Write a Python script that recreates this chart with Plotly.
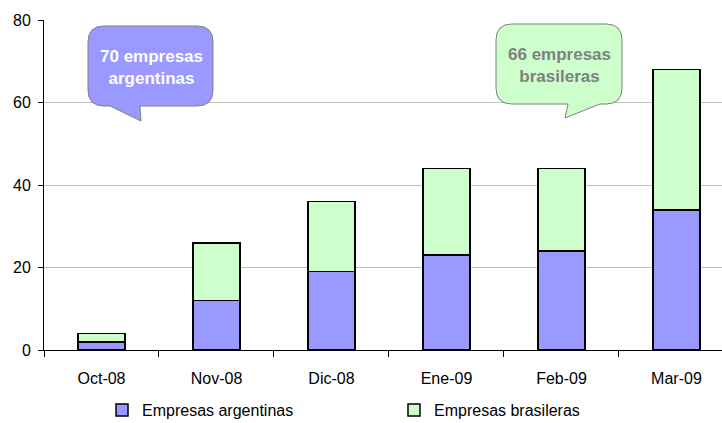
import plotly.graph_objects as go

categories = ["Oct-08", "Nov-08", "Dic-08", "Ene-09", "Feb-09", "Mar-09"]
argentinas = [2, 12, 19, 23, 24, 34]
brasileras = [2, 14, 17, 21, 20, 34]
series_names = ["Empresas argentinas", "Empresas brasileras"]
callout_texts = ["70 empresas<br>argentinas", "66 empresas<br>brasileras"]

W, H = 722, 423
ML, MR, MT, MB = 44, 0, 20, 73
PW, PH = W - ML - MR, H - MT - MB

FONT = "Liberation Sans, Arial, sans-serif"
C_ARG = "#9999FF"
C_BRA = "#CCFFCC"


def px2paper(x, y):
    return (x - ML) / PW, (H - MB - y) / PH


def bubble_path(x0, y0, x1, y1, r, tail):
    bl, br, tx, ty = tail
    def P(cmd, *xy):
        coords = []
        for i in range(0, len(xy), 2):
            px, py = px2paper(xy[i], xy[i + 1])
            coords.append(f"{px:.5f},{py:.5f}")
        return cmd + " ".join(coords)
    s = P("M", x0 + r, y0)
    s += P(" L", x1 - r, y0)
    s += P(" Q", x1, y0, x1, y0 + r)
    s += P(" L", x1, y1 - r)
    s += P(" Q", x1, y1, x1 - r, y1)
    s += P(" L", br, y1)
    s += P(" L", tx, ty)
    s += P(" L", bl, y1)
    s += P(" L", x0 + r, y1)
    s += P(" Q", x0, y1, x0, y1 - r)
    s += P(" L", x0, y0 + r)
    s += P(" Q", x0, y0, x0 + r, y0)
    s += " Z"
    return s


fig = go.Figure()
fig.add_trace(go.Bar(
    x=categories, y=argentinas, name=series_names[0],
    marker=dict(color=C_ARG, line=dict(color="black", width=1.5)),
))
fig.add_trace(go.Bar(
    x=categories, y=brasileras, name=series_names[1],
    marker=dict(color=C_BRA, line=dict(color="black", width=1.5)),
))

shapes = [
    dict(type="path", xref="paper", yref="paper",
         path=bubble_path(88, 26, 213, 106, 16, (110, 140, 141, 121)),
         fillcolor=C_ARG, line=dict(color="#808080", width=1)),
    dict(type="path", xref="paper", yref="paper",
         path=bubble_path(496, 24, 622, 104, 16, (568, 600, 565, 118)),
         fillcolor=C_BRA, line=dict(color="#808080", width=1)),
]

ax1, ay1 = px2paper(151, 67)
ax2, ay2 = px2paper(559, 65)
annotations = [
    dict(xref="paper", yref="paper", x=ax1, y=ay1, showarrow=False,
         xanchor="center", yanchor="middle",
         text="<b>" + callout_texts[0] + "</b>",
         font=dict(family=FONT, size=17, color="white"), align="center"),
    dict(xref="paper", yref="paper", x=ax2, y=ay2, showarrow=False,
         xanchor="center", yanchor="middle",
         text="<b>" + callout_texts[1] + "</b>",
         font=dict(family=FONT, size=17, color="#808080"), align="center"),
]

lx, ly = px2paper(102, 410)

fig.update_layout(
    width=W, height=H,
    margin=dict(l=ML, r=MR, t=MT, b=MB, pad=0, autoexpand=False),
    paper_bgcolor="white", plot_bgcolor="white",
    barmode="stack", bargap=0.59,
    font=dict(family=FONT, size=16, color="black"),
    shapes=shapes, annotations=annotations,
    legend=dict(orientation="h", x=lx, y=ly, xanchor="left", yanchor="middle",
                traceorder="normal",
                entrywidth=247, entrywidthmode="pixels",
                font=dict(family=FONT, size=16, color="black"),
                bgcolor="rgba(0,0,0,0)"),
    xaxis=dict(type="category", range=[-0.5, 5.396], tickson="boundaries",
               ticks="outside", ticklen=6, tickcolor="black", tickwidth=1,
               showline=True, linecolor="black", linewidth=1,
               showgrid=False, fixedrange=True, automargin=False,
               ticklabelstandoff=14,
               tickfont=dict(family=FONT, size=16, color="black")),
    yaxis=dict(range=[0, 80], dtick=20, ticks="outside", ticklen=5,
               tickcolor="black", tickwidth=1,
               showline=True, linecolor="black", linewidth=1,
               showgrid=True, gridcolor="#C0C0C0", gridwidth=1,
               zeroline=False, fixedrange=True, automargin=False,
               ticklabelstandoff=4,
               tickfont=dict(family=FONT, size=16, color="black")),
    showlegend=True,
)

fig.write_html("out.html",
               config={"displayModeBar": False},
               post_script="document.body.style.margin='0';document.body.style.padding='0';")
